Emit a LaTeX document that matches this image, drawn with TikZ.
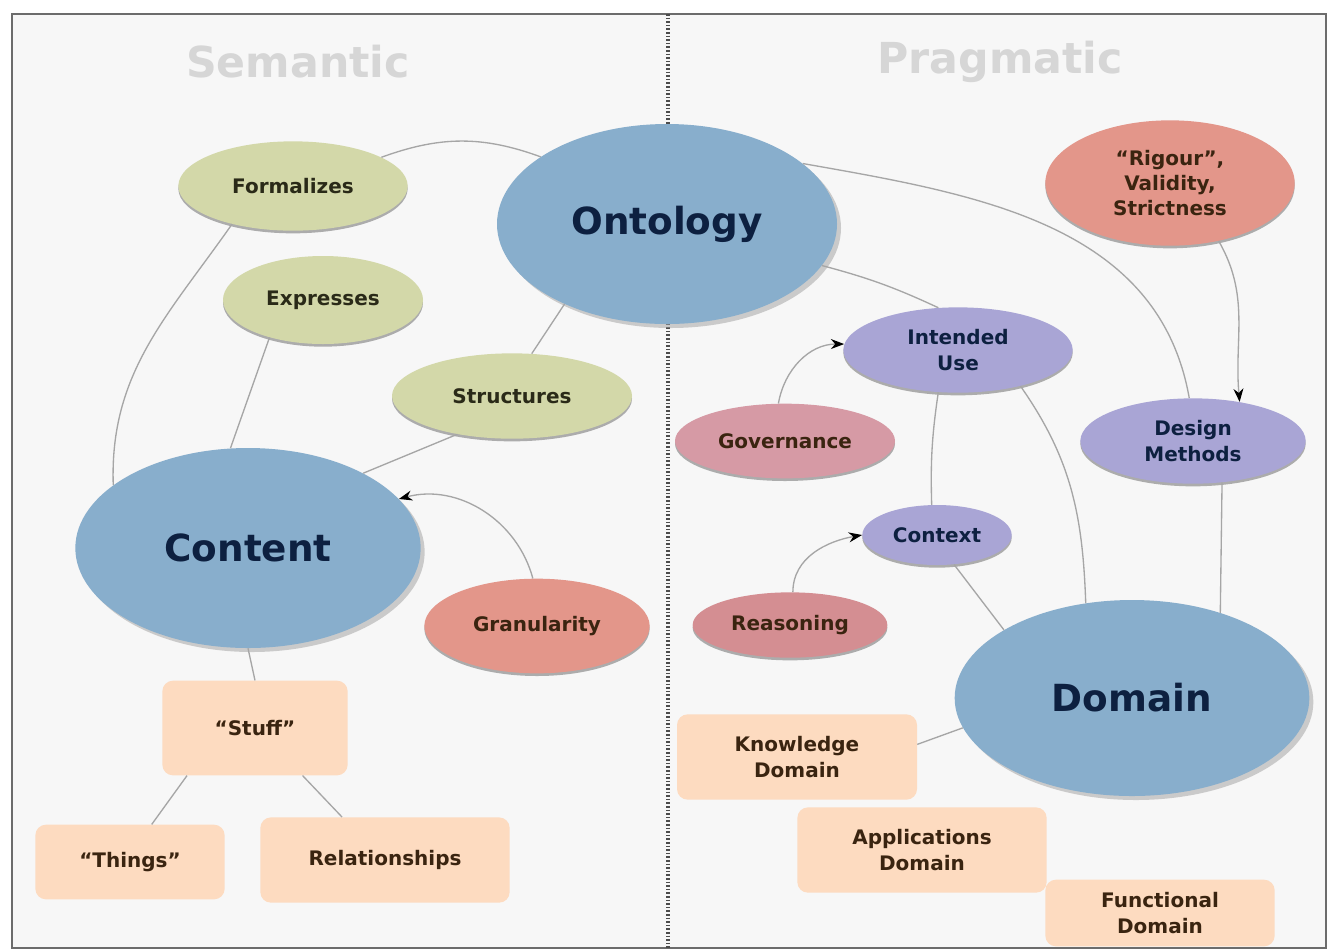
\documentclass[tikz,border=0pt]{standalone}
\usepackage{fontspec}
\setmainfont{DejaVu Sans}
\usetikzlibrary{shapes.geometric,shadows,arrows.meta}
\definecolor{bgc}{HTML}{F7F7F7}
\definecolor{bigblue}{HTML}{88AECC}
\definecolor{navy}{HTML}{0D2040}
\definecolor{greenc}{HTML}{D3D8A9}
\definecolor{pinkc}{HTML}{E3968A}
\definecolor{govc}{HTML}{D69AA5}
\definecolor{reasc}{HTML}{D48E92}
\definecolor{lavc}{HTML}{A9A5D5}
\definecolor{peachc}{HTML}{FDDBC0}
\definecolor{darktext}{HTML}{2A2A18}
\definecolor{browntext}{HTML}{3A2410}
\definecolor{headc}{HTML}{D6D6D6}
\tikzset{
  bigell/.style={ellipse, fill=bigblue, inner sep=0pt, text=navy,
    font=\fontsize{28}{32}\selectfont\bfseries,
    drop shadow={shadow xshift=3pt, shadow yshift=-3pt, fill=gray!75}},
  smallell/.style={ellipse, inner sep=0pt, align=center,
    font=\fontsize{15}{19}\selectfont\bfseries,
    drop shadow={shadow xshift=0pt, shadow yshift=-2pt, fill=black, opacity=0.3}},
  greenell/.style={smallell, fill=greenc, text=darktext},
  pinkell/.style={smallell, fill=pinkc, text=browntext},
  govell/.style={smallell, fill=govc, text=browntext},
  reasell/.style={smallell, fill=reasc, text=browntext},
  lavell/.style={smallell, fill=lavc, text=navy},
  peachbox/.style={rectangle, rounded corners=8pt, fill=peachc, inner sep=0pt,
    align=center, text=browntext, font=\fontsize{15}{19}\selectfont\bfseries},
  conn/.style={draw=gray!70, line width=1pt},
  arr/.style={conn, -{Stealth[length=10pt,width=7.5pt,black]}},
  header/.style={text=headc, font=\fontsize{32}{36}\selectfont\bfseries}
}
\begin{document}
\begin{tikzpicture}[x=0.75pt,y=0.75pt]
\useasboundingbox (0,0) rectangle (1330,-951);
\fill[white] (0,0) rectangle (1330,-951);
\draw[fill=bgc, draw=gray!85!black, line width=1.5pt] (12,-14) rectangle (1326,-948);
\draw[gray!60!black, dash pattern=on 1.2pt off 1.5pt, line width=2.5pt] (668,-14) -- (668,-948);

\node[header] (hsem) at (298,-62) {Semantic};
\node[header] (hprag) at (1000,-62) {Pragmatic};

% big ellipses
\node[bigell, minimum width=255pt, minimum height=150pt] (onto) at (667,-224) {Ontology};
\node[bigell, minimum width=259pt, minimum height=150pt] (cont) at (248,-548) {Content};
\node[bigell, minimum width=266pt, minimum height=147pt] (dom) at (1132,-698) {Domain};

% semantic side
\node[greenell, minimum width=172pt, minimum height=67pt] (form) at (293,-186) {Formalizes};
\node[greenell, minimum width=150pt, minimum height=66pt] (expr) at (323,-300) {Expresses};
\node[greenell, minimum width=180pt, minimum height=64pt] (stru) at (512,-396) {Structures};
\node[pinkell, minimum width=169pt, minimum height=71pt] (gran) at (537,-626) {Granularity};
\node[peachbox, minimum width=139pt, minimum height=71pt] (stuff) at (255,-728) {“Stuff”};
\node[peachbox, minimum width=142pt, minimum height=56pt] (things) at (130,-862) {“Things”};
\node[peachbox, minimum width=187pt, minimum height=64pt] (rel) at (385,-860) {Relationships};

% pragmatic side
\node[pinkell, minimum width=187pt, minimum height=94pt] (rig) at (1170,-183) {“Rigour”,\\Validity,\\Strictness};
\node[lavell, minimum width=172pt, minimum height=64pt] (iu) at (958,-350) {Intended\\Use};
\node[govell, minimum width=165pt, minimum height=56pt] (gov) at (785,-441) {Governance};
\node[lavell, minimum width=169pt, minimum height=64pt] (dm) at (1193,-441) {Design\\Methods};
\node[lavell, minimum width=112pt, minimum height=45pt] (ctx) at (937,-535) {Context};
\node[reasell, minimum width=146pt, minimum height=49pt] (reas) at (790,-625) {Reasoning};
\node[peachbox, minimum width=180pt, minimum height=64pt] (kd) at (797,-757) {Knowledge\\Domain};
\node[peachbox, minimum width=187pt, minimum height=64pt] (ad) at (922,-850) {Applications\\Domain};
\node[peachbox, minimum width=172pt, minimum height=50pt] (fd) at (1160,-913) {Functional\\Domain};

% connectors semantic
\draw[conn] (form.18) to[out=20,in=160] (onto.152);
\draw[conn] (form.212) to[out=235,in=92] (cont.155);
\draw[conn] (expr.215) -- (cont.100);
\draw[conn] (onto.218) -- (stru.65);
\draw[conn] (stru.215) -- (cont.33);
\draw[arr] (gran.95) to[out=105,in=15] (cont.18);
\draw[conn] (cont.south) -- (stuff.north);
\draw[conn] (stuff.215) -- (things.60);
\draw[conn] (stuff.315) -- (rel.135);

% connectors pragmatic
\draw[conn] (onto.24) to[out=-10,in=100] (dm.95);
\draw[conn] (onto.-15) to[bend left=5] (iu.115);
\draw[arr] (rig.-50) to[out=-60,in=95] (dm.40);
\draw[arr] (gov.100) to[out=80,in=180] (iu.177);
\draw[conn] (iu.245) to[bend right=5] (ctx.100);
\draw[conn] (iu.-30) to[out=-55,in=92] (dom.116);
\draw[conn] (dm.-55) -- (dom.44);
\draw[arr] (reas.85) to[out=90,in=190] (ctx.180);
\draw[conn] (ctx.-60) -- (dom.152);
\draw[conn] (dom.190) -- (kd.6);
\end{tikzpicture}
\end{document}
